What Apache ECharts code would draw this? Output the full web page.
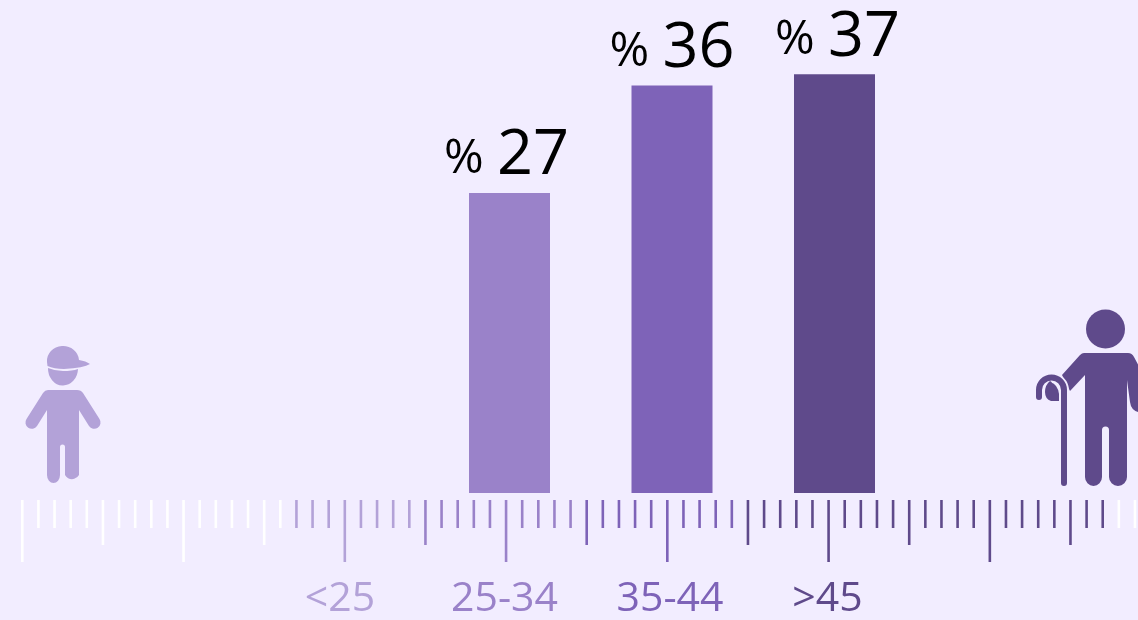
<!DOCTYPE html>
<html><head><meta charset="utf-8">
<style>html,body{margin:0;padding:0;background:#f2edff}#c{width:1138px;height:620px}</style>
<script src="https://cdn.jsdelivr.net/npm/echarts@6/dist/echarts.min.js"></script>
</head><body><div id="c"></div>
<script>
const categories = ['<25', '25-34', '35-44', '>45'];
const values = [null, 26.5, 36, 37];
const valueLabels = ['', '27', '36', '37'];
const colors = { white: '#ffffff', light: '#b3a2d8', mid: '#9a82c9', purple: '#7e63b8', dark: '#5f4a8b' };
const categoryColors = [colors.light, colors.mid, colors.purple, colors.dark];
const categoryLabelNudge = [14, 10, 4, 14];
const valueLabelNudge = [[0,-1], [-3,-1], [0,-1], [3,-1]];
// ruler tick classes: 3 long, 2 medium, 1 short
const tickClass = [
  3,1,1,1,1,2,1,1,1,1, 3,1,1,1,1,2,1,1,1,1,
  3,1,1,1,1,2,1,1,1,1, 3,1,1,1,1,2,1,1,1,1,
  3,1,1,1,1,2,1,1,1,1, 3,1,1,1,1,2,1,1,1,1,
  3,1,1,1,1,2,1,1,1,1
];
const tickLength = { 1: 28, 2: 45, 3: 62 };
const tickSegments = [
  { upTo: 16, color: colors.white }, { upTo: 24, color: colors.light },
  { upTo: 34, color: colors.mid }, { upTo: 44, color: colors.purple },
  { upTo: 67, color: colors.dark }, { upTo: 69, color: colors.white }
];
const tickData = tickClass.map((c, i) => [i, tickLength[c]]);
const tickColor = i => tickSegments.find(s => i <= s.upTo).color;

const childFill = colors.light, manFill = colors.dark, bg = '#f2edff';
const fillPath = (d, fill) => ({ type: 'path', shape: { pathData: d }, style: { fill } });
const iconChildren = [
  // child
  fillPath('M47 362 A16 15 0 0 1 79 360 Q86 361 90 364 Q84 368 64 369 Q54 369 47.5 366 Z', childFill),
  fillPath('M48 368 Q55 371 63 371 Q72 371 78 369 A15 17 0 0 1 48 368 Z', childFill),
  fillPath('M48 390 H77 Q81 390 83 393 L99.5 419 A6.3 6.3 0 0 1 89 426 L79 410 V475 A8 8 0 0 1 65 475 V447 A2.5 2.5 0 0 0 60 447 V475 A6.5 8 0 0 1 47 475 V410 L37 426 A6.3 6.3 0 0 1 26.5 419 L43 393 Q45 390 48 390 Z', childFill),
  // man
  { type: 'circle', shape: { cx: 1105.5, cy: 329, r: 19.5 }, style: { fill: manFill } },
  fillPath('M1084 353 H1128 Q1132 353 1134 357 L1142 372 V412 H1138 Q1131 410 1130 402 L1127 380 V477 A9 9 0 0 1 1109 477 V430 A3.5 3.5 0 0 0 1102 430 V477 A8.5 9 0 0 1 1085 477 V375 L1070 391 L1062 375 L1080 355 Q1082 353 1084 353 Z', manFill),
  fillPath('M1050 381 Q1058 385 1059 394 V401 H1051 Q1045 399 1045 392 Q1045 385 1050 381 Z', manFill),
  { type: 'path', shape: { pathData: 'M1064 410 V390 A12.5 12.5 0 0 0 1052 378' }, style: { fill: 'none', stroke: bg, lineWidth: 10 } },
  { type: 'path', shape: { pathData: 'M1064 483 V390 A12.5 12.5 0 0 0 1039 390 V397' }, style: { fill: 'none', stroke: manFill, lineWidth: 6, lineCap: 'round' } }
];

const chart = echarts.init(document.getElementById('c'), null, { renderer: 'canvas' });
chart.setOption({
  backgroundColor: bg,
  animation: false,
  textStyle: { fontFamily: '"Open Sans"' },
  grid: [
    { left: 265.75, width: 650, top: 40.2, height: 452.8 },
    { left: 22.3, width: 1116, top: 500, height: 62 }
  ],
  xAxis: [
    { type: 'category', gridIndex: 0, data: categories.map((c, i) => ({
        value: c,
        textStyle: { color: categoryColors[i], fontSize: 41, fontFamily: '"Open Sans"', padding: [0, categoryLabelNudge[i], 0, 0] }
      })),
      axisLine: { show: false }, axisTick: { show: false },
      axisLabel: { margin: 86, interval: 0, hideOverlap: false, fontFamily: '"Open Sans"' } },
    { type: 'value', gridIndex: 1, min: 0, max: 1116 / 16.13, show: false }
  ],
  yAxis: [
    { type: 'value', gridIndex: 0, min: 0, max: 40, show: false },
    { type: 'value', gridIndex: 1, min: 0, max: 62, inverse: true, show: false }
  ],
  series: [
    { type: 'bar', xAxisIndex: 0, yAxisIndex: 0, barWidth: 81,
      data: values.map((v, i) => ({
        value: v,
        itemStyle: { color: categoryColors[i] },
        label: {
          show: v !== null, position: 'top', distance: 4, offset: valueLabelNudge[i],
          formatter: '{p|%} {n|' + valueLabels[i] + '}',
          rich: {
            p: { fontSize: 48, fontFamily: '"Open Sans"', color: '#000', padding: [6, 10, 0, 0] },
            n: { fontSize: 63, fontFamily: '"Open Sans"', color: '#000' }
          }
        }
      }))
    },
    { type: 'custom', xAxisIndex: 1, yAxisIndex: 1, clip: false, silent: true,
      encode: { x: 0, y: 1 }, data: tickData,
      renderItem: (params, api) => {
        const top = api.coord([api.value(0), 0]);
        const bottom = api.coord([api.value(0), api.value(1)]);
        return { type: 'rect', shape: { x: top[0] - 1.3, y: top[1], width: 2.6, height: bottom[1] - top[1] },
          style: { fill: tickColor(api.value(0)) } };
      }
    },
    { type: 'custom', coordinateSystem: 'none', silent: true, data: [[0]],
      renderItem: () => ({ type: 'group', children: iconChildren }) }
  ]
});
</script></body></html>
